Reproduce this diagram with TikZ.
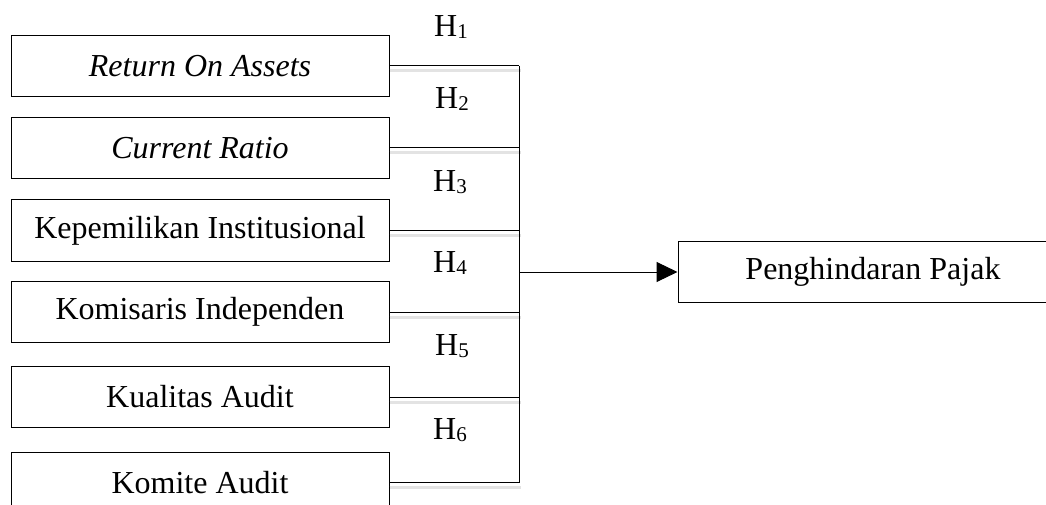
\documentclass[tikz,border=0pt]{standalone}
\usepackage{fontspec}
\setmainfont{Liberation Serif}
\usetikzlibrary{arrows.meta}

\newcommand{\hsub}[1]{\raisebox{-2.5pt}{\fontsize{21}{21}\selectfont #1}}

\tikzset{
  varbox/.style={draw,line width=1pt,minimum width=378pt,minimum height=61pt,
    inner sep=0pt,font=\fontsize{32}{38}\selectfont},
  hlabel/.style={inner sep=0pt,font=\fontsize{32}{38}\selectfont},
  link/.style={line width=1pt},
  shadowline/.style={line width=3pt,gray!22},
}

\begin{document}
\begin{tikzpicture}[line cap=butt,line join=miter,x=1pt,y=-1pt]
\clip (0,0) rectangle (1046,505);
% independent variables
\node[varbox] (roa) at (200,66) {\textit{Return On Assets}};
\node[varbox] (cr) at (200,148) {\textit{Current Ratio}};
\node[varbox] (kepi) at (200,230.5) {Kepemilikan Institusional};
\node[varbox] (komi) at (200,312) {Komisaris Independen};
\node[varbox] (kual) at (200,397) {Kualitas Audit};
\node[varbox] (koma) at (200,482.5) {Komite Audit};
% dependent variable
\node[varbox,minimum width=390pt] (pajak) at (873,272) {Penghindaran Pajak};
\coordinate (bus) at (519,0);
% hypothesis labels
\node[hlabel] (h1) at (451,27) {H\hsub{1}};
\node[hlabel] (h2) at (452,99) {H\hsub{2}};
\node[hlabel] (h3) at (450,182) {H\hsub{3}};
\node[hlabel] (h4) at (450,263) {H\hsub{4}};
\node[hlabel] (h5) at (452,346) {H\hsub{5}};
\node[hlabel] (h6) at (450,430) {H\hsub{6}};
% light shadows under the links
\foreach \v in {roa,cr,kepi,komi,kual,koma}
  \draw[shadowline] ([yshift=-5pt]\v.east) -- ([xshift=2pt,yshift=-5pt]\v.east -| bus);
% links
\foreach \v in {roa,cr,kepi,komi,kual,koma}
  \draw[link] (\v.east) -- (\v.east -| bus);
\draw[link] (roa.east -| bus) -- (koma.east -| bus);
\draw[link,-{Triangle[length=21pt,width=20pt]}] (pajak.west -| bus) -- (pajak.west);
\end{tikzpicture}
\end{document}
